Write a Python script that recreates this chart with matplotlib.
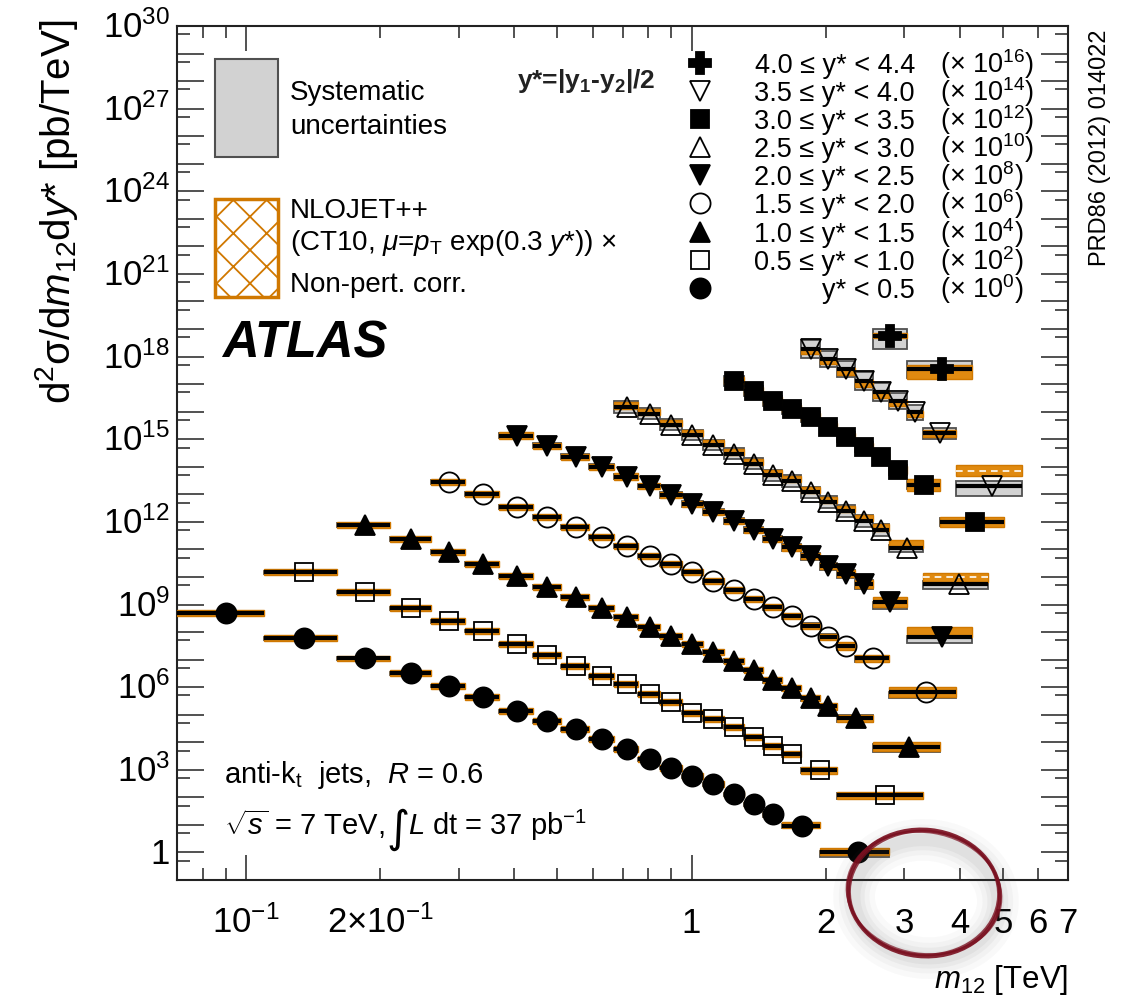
import numpy as np
import matplotlib
matplotlib.use("Agg")
import matplotlib.pyplot as plt
from matplotlib.patches import Rectangle, Ellipse
from matplotlib.lines import Line2D
from matplotlib.ticker import FixedLocator, NullFormatter

plt.rcParams['font.family'] = ['Liberation Sans', 'DejaVu Sans']
plt.rcParams['mathtext.fontset'] = 'custom'
plt.rcParams['mathtext.rm'] = 'Liberation Sans'
plt.rcParams['mathtext.it'] = 'Liberation Sans:italic'
plt.rcParams['mathtext.bf'] = 'Liberation Sans:bold'
plt.rcParams['mathtext.sf'] = 'Liberation Sans'
plt.rcParams['hatch.linewidth'] = 1.3

ORANGE = '#e08a10'
ORANGE_EDGE = '#d07800'

# ---------------- data ----------------
range_labels = ["4.0 \u2264 y* < 4.4", "3.5 \u2264 y* < 4.0", "3.0 \u2264 y* < 3.5",
                "2.5 \u2264 y* < 3.0", "2.0 \u2264 y* < 2.5", "1.5 \u2264 y* < 2.0",
                "1.0 \u2264 y* < 1.5", "0.5 \u2264 y* < 1.0", "y* < 0.5"]
scale_exp = [16, 14, 12, 10, 8, 6, 4, 2, 0]

# bin edges (TeV) per y* range, ordered from y*<0.5 upward
edges_0 = [0.07, 0.11, 0.16, 0.21, 0.26, 0.31, 0.37, 0.44, 0.51, 0.59, 0.67, 0.76, 0.85, 0.95, 1.06, 1.18, 1.31, 1.45, 1.60, 1.94, 2.78]
edges_1 = [0.11, 0.16, 0.21, 0.26, 0.31, 0.37, 0.44, 0.51, 0.59, 0.67, 0.76, 0.85, 0.95, 1.06, 1.18, 1.31, 1.45, 1.60, 1.76, 2.12, 3.31]
edges_2 = [0.16, 0.21, 0.26, 0.31, 0.37, 0.44, 0.51, 0.59, 0.67, 0.76, 0.85, 0.95, 1.06, 1.18, 1.31, 1.45, 1.60, 1.76, 1.94, 2.12, 2.55, 3.61]
edges_3 = [0.26, 0.31, 0.37, 0.44, 0.51, 0.59, 0.67, 0.76, 0.85, 0.95, 1.06, 1.18, 1.31, 1.45, 1.60, 1.76, 1.94, 2.12, 2.33, 2.78, 3.93]
edges_4 = [0.37, 0.44, 0.51, 0.59, 0.67, 0.76, 0.85, 0.95, 1.06, 1.18, 1.31, 1.45, 1.60, 1.76, 1.94, 2.12, 2.33, 2.55, 3.04, 4.27]
edges_5 = [0.67, 0.76, 0.85, 0.95, 1.06, 1.18, 1.31, 1.45, 1.60, 1.76, 1.94, 2.12, 2.33, 2.55, 2.78, 3.31, 4.64]
edges_6 = [1.18, 1.31, 1.45, 1.60, 1.76, 1.94, 2.12, 2.33, 2.55, 2.78, 3.04, 3.61, 5.04]
edges_7 = [1.76, 1.94, 2.12, 2.33, 2.55, 2.78, 3.04, 3.31, 3.93, 5.51]
edges_8 = [2.55, 3.04, 4.27]

# d2sigma/dm12dy* [pb/TeV] (unscaled)
xsec_0 = [4.9e8, 6.0e7, 1.1e7, 3.2e6, 1.1e6, 4.4e5, 1.35e5, 5.8e4, 3.0e4, 1.3e4, 5.6e3, 2.4e3, 1.2e3, 5.8e2, 3.0e2, 1.3e2, 56, 24, 9.5, 1.0]
xsec_1 = [1.5e8, 2.8e7, 7.4e6, 2.5e6, 1.1e6, 3.6e5, 1.45e5, 5.8e4, 2.5e4, 1.3e4, 5.6e3, 2.8e3, 1.2e3, 6.9e2, 3.5e2, 1.5e2, 71, 36, 9.5, 1.2]
xsec_2 = [7.8e7, 2.4e7, 8.1e6, 3.0e6, 1.1e6, 4.4e5, 1.9e5, 7.4e4, 3.5e4, 1.5e4, 7.1e3, 3.6e3, 1.9e3, 8.9e2, 4.2e2, 1.8e2, 91, 40, 20, 7.4, 0.66]
xsec_3 = [2.8e7, 1.05e7, 3.5e6, 1.5e6, 6.6e5, 2.8e5, 1.35e5, 5.8e4, 3.0e4, 1.5e4, 7.1e3, 3.4e3, 1.6e3, 8.1e2, 3.8e2, 1.7e2, 66, 31, 11, 0.66]
xsec_4 = [1.35e7, 5.8e6, 2.3e6, 1.0e6, 4.4e5, 2.0e5, 9.5e4, 4.5e4, 2.3e4, 1.1e4, 5.1e3, 2.4e3, 1.2e3, 5.8e2, 2.5e2, 1.3e2, 56, 12, 0.66]
xsec_5 = [1.5e6, 8.5e5, 3.4e5, 1.45e5, 6.3e4, 3.0e4, 1.3e4, 5.1e3, 3.1e3, 1.2e3, 5.4e2, 2.5e2, 1.1e2, 51, 11, 0.56]
xsec_6 = [1.35e5, 5.8e4, 2.5e4, 1.3e4, 6.6e3, 2.8e3, 1.2e3, 5.4e2, 2.3e2, 78, 22, 1.0]
xsec_7 = [1.95e4, 8.5e3, 3.6e3, 1.35e3, 5.4e2, 2.5e2, 1.0e2, 17, 0.2]
xsec_8 = [5.4e2, 34]

# systematic uncertainty band (multiplicative lower / upper factors)
sys_lo_0 = [0.88, 0.89, 0.89, 0.89, 0.89, 0.89, 0.88, 0.88, 0.88, 0.88, 0.87, 0.87, 0.87, 0.86, 0.86, 0.85, 0.85, 0.84, 0.82, 0.66]
sys_hi_0 = [1.12, 1.11, 1.11, 1.11, 1.11, 1.11, 1.12, 1.12, 1.12, 1.12, 1.13, 1.13, 1.13, 1.14, 1.14, 1.15, 1.15, 1.16, 1.18, 1.12]
sys_lo_1 = [0.88, 0.88, 0.88, 0.88, 0.88, 0.87, 0.87, 0.87, 0.87, 0.86, 0.86, 0.86, 0.85, 0.85, 0.84, 0.84, 0.83, 0.82, 0.78, 0.70]
sys_hi_1 = [1.12, 1.12, 1.12, 1.12, 1.12, 1.13, 1.13, 1.13, 1.13, 1.14, 1.14, 1.14, 1.15, 1.15, 1.16, 1.16, 1.17, 1.18, 1.22, 1.25]
sys_lo_2 = [0.86, 0.86, 0.86, 0.86, 0.86, 0.85, 0.85, 0.85, 0.85, 0.84, 0.84, 0.84, 0.83, 0.83, 0.82, 0.82, 0.80, 0.78, 0.76, 0.72, 0.66]
sys_hi_2 = [1.14, 1.14, 1.14, 1.14, 1.14, 1.15, 1.15, 1.15, 1.15, 1.16, 1.16, 1.16, 1.17, 1.17, 1.18, 1.18, 1.20, 1.22, 1.24, 1.28, 1.30]
sys_lo_3 = [0.84, 0.84, 0.84, 0.84, 0.83, 0.83, 0.83, 0.82, 0.82, 0.81, 0.81, 0.80, 0.80, 0.79, 0.78, 0.77, 0.76, 0.74, 0.72, 0.62]
sys_hi_3 = [1.16, 1.16, 1.16, 1.16, 1.17, 1.17, 1.17, 1.18, 1.18, 1.19, 1.19, 1.20, 1.20, 1.21, 1.22, 1.23, 1.24, 1.26, 1.28, 1.00]
sys_lo_4 = [0.80, 0.80, 0.80, 0.80, 0.79, 0.79, 0.78, 0.78, 0.77, 0.77, 0.76, 0.75, 0.74, 0.73, 0.72, 0.70, 0.68, 0.55, 0.60]
sys_hi_4 = [1.22, 1.22, 1.22, 1.22, 1.23, 1.23, 1.24, 1.24, 1.25, 1.25, 1.26, 1.27, 1.28, 1.30, 1.32, 1.34, 1.36, 1.00, 1.10]
sys_lo_5 = [0.60, 0.62, 0.62, 0.62, 0.62, 0.62, 0.62, 0.62, 0.60, 0.60, 0.60, 0.58, 0.58, 0.58, 0.75, 0.66]
sys_hi_5 = [1.60, 1.55, 1.55, 1.55, 1.55, 1.55, 1.55, 1.55, 1.60, 1.60, 1.60, 1.62, 1.62, 1.62, 1.30, 1.29]
sys_lo_6 = [0.65, 0.66, 0.66, 0.66, 0.65, 0.65, 0.64, 0.64, 0.63, 0.62, 0.70, 0.72]
sys_hi_6 = [1.50, 1.48, 1.48, 1.48, 1.50, 1.50, 1.52, 1.52, 1.54, 1.55, 1.40, 1.40]
sys_lo_7 = [0.47, 0.50, 0.50, 0.45, 0.45, 0.50, 0.50, 0.60, 0.43]
sys_hi_7 = [2.10, 1.90, 1.90, 2.00, 2.00, 1.90, 1.80, 1.50, 1.52]
sys_lo_8 = [0.34, 0.51]
sys_hi_8 = [1.80, 1.95]

# NLO theory band relative to data (lower / upper factors)
th_lo_0 = [0.78, 0.78, 0.78, 0.78, 0.78, 0.78, 0.78, 0.78, 0.78, 0.78, 0.78, 0.78, 0.78, 0.78, 0.78, 0.78, 0.78, 0.78, 0.78, 0.78]
th_hi_0 = [1.28, 1.28, 1.28, 1.28, 1.28, 1.28, 1.28, 1.28, 1.28, 1.28, 1.28, 1.28, 1.28, 1.28, 1.28, 1.28, 1.28, 1.28, 1.30, 1.50]
th_lo_1 = [0.78, 0.78, 0.78, 0.78, 0.78, 0.78, 0.78, 0.78, 0.78, 0.78, 0.78, 0.78, 0.78, 0.78, 0.78, 0.78, 0.78, 0.78, 0.76, 0.72]
th_hi_1 = [1.28, 1.28, 1.28, 1.28, 1.28, 1.28, 1.28, 1.28, 1.28, 1.28, 1.28, 1.28, 1.28, 1.28, 1.28, 1.28, 1.28, 1.30, 1.32, 1.28]
th_lo_2 = [0.78, 0.78, 0.78, 0.78, 0.78, 0.78, 0.78, 0.78, 0.78, 0.78, 0.78, 0.78, 0.78, 0.78, 0.78, 0.78, 0.78, 0.78, 0.76, 0.74, 0.70]
th_hi_2 = [1.28, 1.28, 1.28, 1.28, 1.28, 1.28, 1.28, 1.28, 1.28, 1.28, 1.28, 1.28, 1.28, 1.28, 1.28, 1.30, 1.30, 1.32, 1.34, 1.36, 1.50]
th_lo_3 = [0.76, 0.76, 0.76, 0.76, 0.76, 0.76, 0.76, 0.76, 0.76, 0.76, 0.76, 0.76, 0.76, 0.76, 0.76, 0.76, 0.76, 0.74, 0.72, 0.66]
th_hi_3 = [1.30, 1.30, 1.30, 1.30, 1.30, 1.30, 1.30, 1.30, 1.30, 1.30, 1.30, 1.30, 1.30, 1.30, 1.30, 1.30, 1.32, 1.35, 1.38, 1.50]
th_lo_4 = [0.76, 0.76, 0.76, 0.76, 0.76, 0.76, 0.76, 0.76, 0.76, 0.76, 0.76, 0.76, 0.76, 0.76, 0.76, 0.76, 0.74, 0.70, 1.00]
th_hi_4 = [1.30, 1.30, 1.30, 1.30, 1.30, 1.30, 1.30, 1.30, 1.30, 1.30, 1.30, 1.30, 1.30, 1.30, 1.32, 1.34, 1.38, 1.50, 2.30]
th_lo_5 = [0.85, 0.90, 0.90, 0.90, 0.90, 0.90, 0.90, 0.90, 0.92, 0.92, 0.92, 0.92, 0.95, 0.95, 1.00, 1.18]
th_hi_5 = [1.50, 1.50, 1.50, 1.50, 1.50, 1.50, 1.50, 1.50, 1.52, 1.52, 1.52, 1.55, 1.55, 1.60, 1.95, 2.50]
th_lo_6 = [0.72, 0.72, 0.72, 0.72, 0.72, 0.72, 0.72, 0.72, 0.70, 0.70, 0.60, 0.66]
th_hi_6 = [1.35, 1.35, 1.35, 1.35, 1.35, 1.35, 1.35, 1.35, 1.38, 1.40, 1.65, 1.50]
th_lo_7 = [0.62, 0.62, 0.62, 0.60, 0.60, 0.62, 0.65, 0.70, 2.30]
th_hi_7 = [1.00, 1.00, 1.05, 1.05, 1.05, 1.05, 1.10, 1.25, 5.80]
th_lo_8 = [0.85, 0.47]
th_hi_8 = [1.28, 1.40]

all_edges = [edges_0, edges_1, edges_2, edges_3, edges_4, edges_5, edges_6, edges_7, edges_8]
all_xsec = [xsec_0, xsec_1, xsec_2, xsec_3, xsec_4, xsec_5, xsec_6, xsec_7, xsec_8]
all_sys_lo = [sys_lo_0, sys_lo_1, sys_lo_2, sys_lo_3, sys_lo_4, sys_lo_5, sys_lo_6, sys_lo_7, sys_lo_8]
all_sys_hi = [sys_hi_0, sys_hi_1, sys_hi_2, sys_hi_3, sys_hi_4, sys_hi_5, sys_hi_6, sys_hi_7, sys_hi_8]
all_th_lo = [th_lo_0, th_lo_1, th_lo_2, th_lo_3, th_lo_4, th_lo_5, th_lo_6, th_lo_7, th_lo_8]
all_th_hi = [th_hi_0, th_hi_1, th_hi_2, th_hi_3, th_hi_4, th_hi_5, th_hi_6, th_hi_7, th_hi_8]
series_exp = [0, 2, 4, 6, 8, 10, 12, 14, 16]
series_marker = ['o', 's', '^', 'o', 'v', '^', 's', 'v', 'P']
series_filled = [True, False, True, False, True, False, True, False, True]
series_ms = [14.5, 12.5, 14, 14.5, 14, 14, 13, 14, 16]

# ---------------- figure ----------------
W, H = 1129, 1007
fig = plt.figure(figsize=(W / 100, H / 100), dpi=100)
ax = fig.add_axes([177 / W, 1 - 880 / H, (1068 - 177) / W, (880 - 26) / H])
ax.set_xscale('log')
ax.set_yscale('log')
ax.set_xlim(0.07, 7.0)
ax.set_ylim(0.1, 1e30)
for s in ax.spines.values():
    s.set_linewidth(1.5)
    s.set_color('#222222')


def fx(x):
    return x / W


def fy(y):
    return 1 - y / H


for k in range(9):
    e = np.array(all_edges[k])
    lo, hi = e[:-1], e[1:]
    xc = 0.5 * (lo + hi)
    y = np.array(all_xsec[k]) * 10.0 ** series_exp[k]
    slo, shi = np.array(all_sys_lo[k]), np.array(all_sys_hi[k])
    tlo, thi = np.array(all_th_lo[k]), np.array(all_th_hi[k])
    for i in range(len(y)):
        ax.add_patch(Rectangle((lo[i], y[i] * slo[i]), hi[i] - lo[i], y[i] * (shi[i] - slo[i]),
                               facecolor='#d2d2d2', edgecolor='#505050', lw=1.3, zorder=2))
        ax.add_patch(Rectangle((lo[i], y[i] * tlo[i]), hi[i] - lo[i], y[i] * (thi[i] - tlo[i]),
                               facecolor=ORANGE, edgecolor=ORANGE_EDGE, lw=1.0, zorder=3))
        tc = np.sqrt(tlo[i] * thi[i])
        if tc > 1.6:
            ax.plot([lo[i], hi[i]], [y[i] * tc, y[i] * tc], color='white', lw=1.2,
                    ls=(0, (4, 3)), zorder=3.5)
    ax.hlines(y, lo, hi, colors='black', lw=3.0, zorder=4)
    ax.plot(xc, y, ls='none', marker=series_marker[k], ms=series_ms[k],
            mfc='black' if series_filled[k] else 'none', mec='black', mew=1.3, zorder=5)

# ticks
ax.yaxis.set_major_locator(FixedLocator([10.0 ** n for n in range(0, 31)]))
ax.yaxis.set_minor_locator(FixedLocator([5 * 10.0 ** (n - 1) for n in range(0, 31)]))
ax.xaxis.set_major_locator(FixedLocator([0.1, 1.0]))
ax.xaxis.set_minor_locator(FixedLocator([0.08, 0.09, 0.2, 0.3, 0.4, 0.5, 0.6, 0.7, 0.8, 0.9,
                                         2, 3, 4, 5, 6, 7]))
for a in (ax.xaxis, ax.yaxis):
    a.set_major_formatter(NullFormatter())
    a.set_minor_formatter(NullFormatter())
ax.tick_params(which='both', direction='in', top=True, right=True, width=1.1, color='#222222')
ax.tick_params(axis='y', which='major', length=19.5)
ax.tick_params(axis='y', which='minor', length=9.5)
ax.tick_params(axis='x', which='major', length=18)
ax.tick_params(axis='x', which='minor', length=8.6)

PT = 0.72  # points per pixel at dpi 100
TICKFS = 25
for n in range(0, 31, 3):
    lbl = "1" if n == 0 else r"$10^{%d}$" % n
    ax.annotate(lbl, xy=(0, 10.0 ** n), xycoords=('axes fraction', 'data'),
                xytext=(-7 * PT, -12 * PT), textcoords='offset points',
                ha='right', va='baseline', fontsize=TICKFS)
xlabels = [(0.1, r"$10^{-1}$"), (0.2, r"2$\times$10$^{-1}$"), (1, "1"), (2, "2"), (3, "3"),
           (4, "4"), (5, "5"), (6, "6"), (7, "7")]
for xv, lbl in xlabels:
    ax.annotate(lbl, xy=(xv, 0), xycoords=('data', 'axes fraction'),
                xytext=(0, -53 * PT), textcoords='offset points',
                ha='center', va='baseline', fontsize=TICKFS)

# axis titles
fig.text(fx(57), fy(20), "d$^{2}$\u03c3/d$m_{12}$d$y$* [pb/TeV]", rotation=90,
         ha='center', va='top', fontsize=29)
fig.text(fx(1068), fy(988), "$m_{12}$ [TeV]", ha='right', va='baseline', fontsize=22.5)

# legend: systematic box and theory box
fig.add_artist(Rectangle((fx(215), fy(157)), (278 - 215) / W, (157 - 59) / H,
                         transform=fig.transFigure, facecolor='#d2d2d2',
                         edgecolor='#505050', lw=1.5))
fig.add_artist(Rectangle((fx(215), fy(297)), (278 - 215) / W, (297 - 199) / H,
                         transform=fig.transFigure, facecolor='white',
                         edgecolor=ORANGE_EDGE, lw=2.5, hatch='x'))
LFS = 20
fig.text(fx(290), fy(100), "Systematic", fontsize=LFS, va='baseline')
fig.text(fx(290), fy(134), "uncertainties", fontsize=LFS, va='baseline')
fig.text(fx(290), fy(218), "NLOJET++", fontsize=LFS, va='baseline')
fig.text(fx(290), fy(250), r"(CT10, $\mu$=$p_{\mathrm{T}}$ exp(0.3 $y$*)) $\times$", fontsize=LFS, va='baseline')
fig.text(fx(290), fy(292), "Non-pert. corr.", fontsize=LFS, va='baseline')
fig.text(fx(517), fy(88), r"y*=|y$_{\mathbf{1}}$-y$_{\mathbf{2}}$|/2", fontsize=19,
         fontweight='bold', va='baseline', color='#222222')

# legend: y* ranges
leg_marker = ['P', 'v', 's', '^', 'v', 'o', '^', 's', 'o']
leg_filled = [True, False, True, False, True, False, True, False, True]
leg_ms = [16, 14, 13, 14, 14, 14.5, 14, 12.5, 14.5]
row_base = [73, 101, 129, 157, 185, 213, 242, 270, 298]
RFS = 19.5
for i in range(9):
    ymark = row_base[i] - 10
    fig.add_artist(Line2D([fx(700)], [fy(ymark)], transform=fig.transFigure, ls='none',
                          marker=leg_marker[i], ms=leg_ms[i],
                          mfc='black' if leg_filled[i] else 'none', mec='black', mew=1.3))
    fig.text(fx(915), fy(row_base[i]), range_labels[i], fontsize=RFS, ha='right', va='baseline')
    fig.text(fx(940), fy(row_base[i]), r"($\times$ 10$^{%d}$)" % scale_exp[i], fontsize=RFS,
             ha='left', va='baseline')

# labels inside plot
fig.text(fx(222), fy(358), "ATLAS", fontsize=36.5, fontweight='bold', fontstyle='italic', va='baseline')
fig.text(fx(224), fy(783), r"anti-k$_{\mathrm{t}}$  jets,  $R$ = 0.6", fontsize=21, va='baseline')
fig.text(fx(224), fy(835), r"$\sqrt{s}$ = 7 TeV,", fontsize=21, va='baseline')
fig.text(fx(398), fy(842), "\u222b", fontsize=32, va='baseline', ha='center', family=['DejaVu Sans'])
fig.text(fx(408), fy(835), r"$L$ dt = 37 pb$^{-1}$", fontsize=21, va='baseline')

# reference text at right
fig.text(fx(1100), fy(30), "PRD86 (2012) 014022", rotation=90, ha='center', va='top', fontsize=17)

# hand-drawn red circle with soft shadow
tr = fig.dpi_scale_trans
cx, cy = 9.24, (H - 893) / 100
for lw, al in [(30, 0.03), (22, 0.04), (15, 0.05), (9, 0.06)]:
    fig.add_artist(Ellipse((cx + 0.02, cy - 0.06), 1.44, 1.18, angle=-6, transform=tr,
                           fill=False, lw=lw, edgecolor='#505050', alpha=al))
for dw, dh, ang, lw, al in [(1.52, 1.27, -6, 2.6, 0.9), (1.49, 1.24, -3, 2.0, 0.8),
                            (1.55, 1.22, -9, 1.8, 0.7)]:
    fig.add_artist(Ellipse((cx, cy), dw, dh, angle=ang, transform=tr, fill=False, lw=lw,
                           edgecolor='#7a1020', alpha=al))

fig.savefig("out.png", dpi=100)
